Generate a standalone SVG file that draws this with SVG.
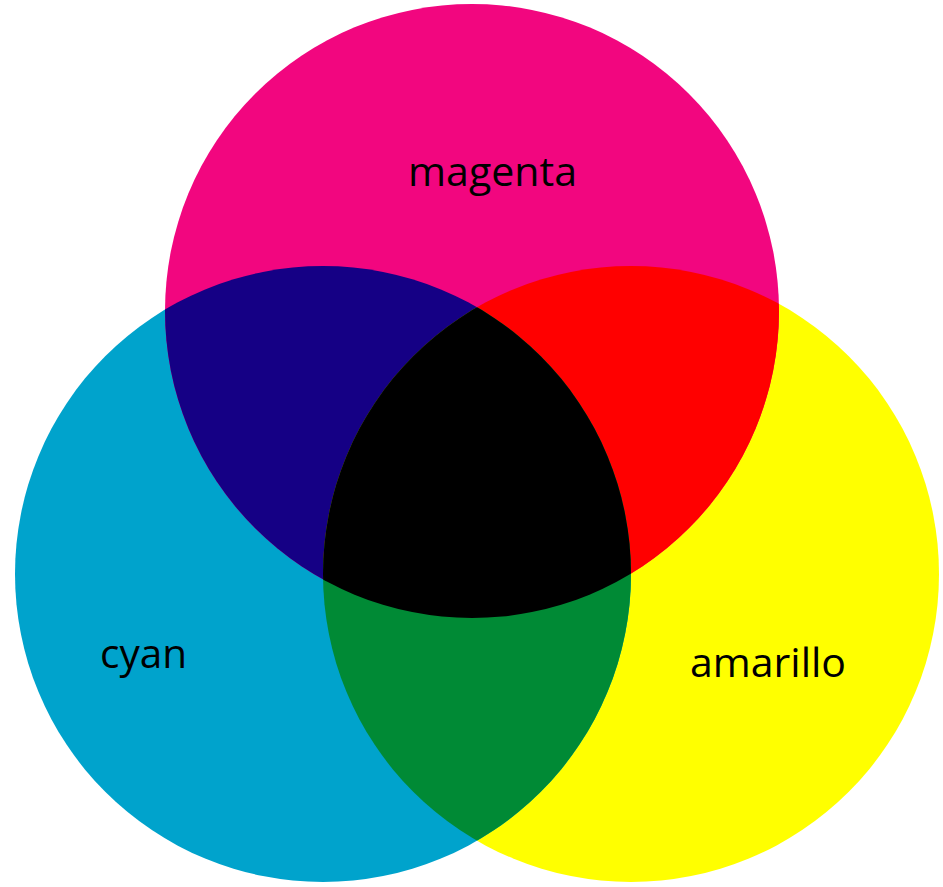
<svg xmlns="http://www.w3.org/2000/svg" width="943" height="887" viewBox="0 0 943 887">
  <style>
    .lbl { font-family: "Open Sans", "Liberation Sans", sans-serif; font-size: 40px; fill: #000; }
  </style>
  <defs>
    <clipPath id="clipM"><circle cx="472" cy="311" r="307"/></clipPath>
    <clipPath id="clipC"><circle cx="323" cy="574" r="308"/></clipPath>
    <clipPath id="clipY"><circle cx="631" cy="574" r="308"/></clipPath>
  </defs>
  <rect width="943" height="887" fill="#ffffff"/>
  <g id="yellow">
    <circle cx="631" cy="574" r="308" fill="#FFFF00"/>
  </g>
  <g id="cyan">
    <circle cx="323" cy="574" r="308" fill="#00A3CC"/>
  </g>
  <g id="magenta">
    <circle cx="472" cy="311" r="307" fill="#F2067F"/>
  </g>
  <g id="blue-overlap">
    <circle cx="323" cy="574" r="308" fill="#150085" clip-path="url(#clipM)"/>
  </g>
  <g id="red-overlap">
    <circle cx="631" cy="574" r="308" fill="#FF0000" clip-path="url(#clipM)"/>
  </g>
  <g id="green-overlap">
    <circle cx="631" cy="574" r="308" fill="#008A35" clip-path="url(#clipC)"/>
  </g>
  <g id="black-overlap" clip-path="url(#clipY)">
    <circle cx="323" cy="574" r="308" fill="#000000" clip-path="url(#clipM)"/>
  </g>
  <g id="labels">
    <text class="lbl" x="408" y="186" textLength="169" lengthAdjust="spacingAndGlyphs">magenta</text>
    <text class="lbl" x="100" y="668" textLength="87" lengthAdjust="spacingAndGlyphs">cyan</text>
    <text class="lbl" x="690" y="677" textLength="156" lengthAdjust="spacingAndGlyphs">amarillo</text>
  </g>
</svg>
